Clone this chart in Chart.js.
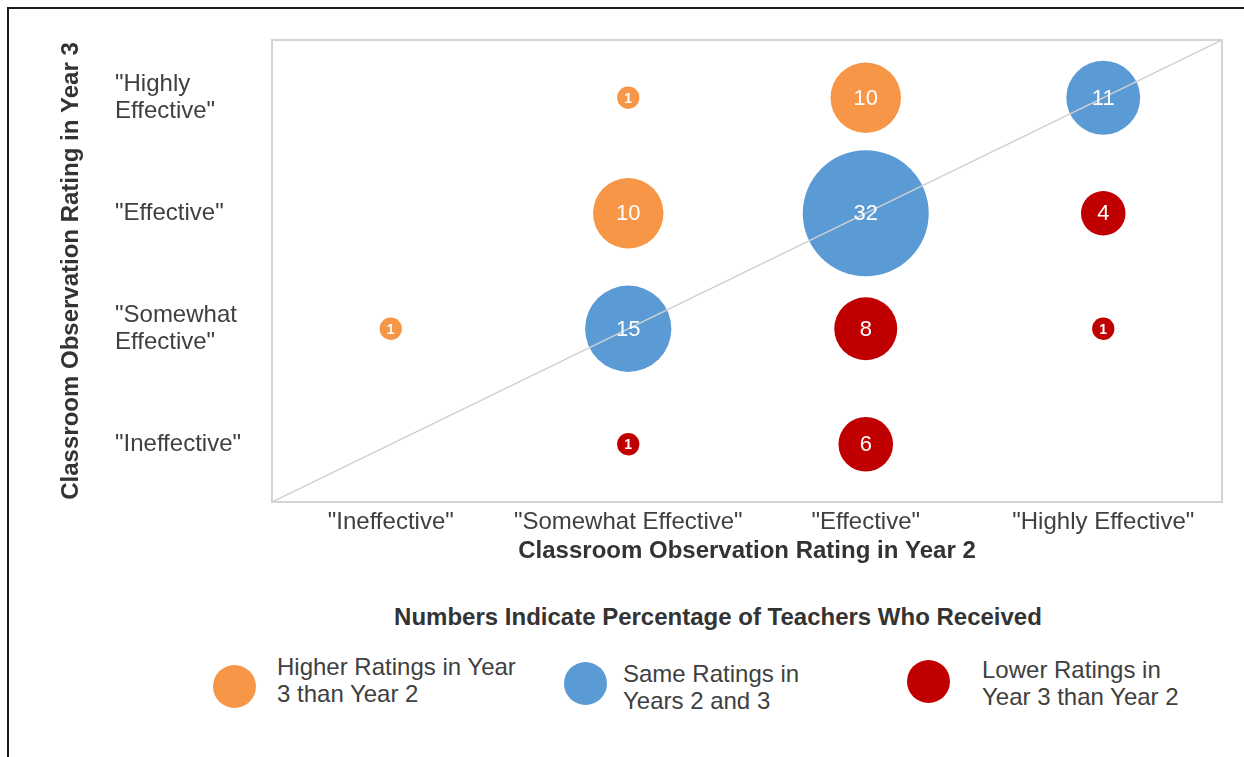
<!DOCTYPE html>
<html>
<head>
<meta charset="utf-8">
<script src="https://cdn.jsdelivr.net/npm/chart.js@4/dist/chart.umd.min.js"></script>
<style>
  body { margin: 0; width: 1244px; height: 757px; position: relative; overflow: hidden; background: #fff;
         font-family: "Liberation Sans", Arial, sans-serif; color: #404040; }
  #frame { position: absolute; left: 7px; top: 7px; right: -4px; bottom: -4px;
           border-top: 2px solid #1b1b1b; border-left: 2px solid #1b1b1b; }
  #wrap { position: absolute; left: 0; top: 0; width: 1244px; height: 580px; }
  .legend-title { position: absolute; left: 318px; width: 800px; top: 603px; text-align: center;
                  font-weight: bold; font-size: 24px; color: #333; }
  .dot { position: absolute; width: 43px; height: 43px; border-radius: 50%; }
  .txt { position: absolute; font-size: 24px; line-height: 27px; white-space: nowrap; }
</style>
</head>
<body>
<div id="frame"></div>
<div id="wrap"><canvas id="bubbleChart"></canvas></div>
<div id="legend"></div>

<script>
'use strict';

// axis categories
const xCategories = ['"Ineffective"', '"Somewhat Effective"', '"Effective"', '"Highly Effective"'];
const yCategories = [['"Ineffective"'], ['"Somewhat', 'Effective"'], ['"Effective"'], ['"Highly', 'Effective"']];

// series (x / y are category positions 1..4, values are % of teachers)
const seriesNames = [
  ['Higher Ratings in Year', '3 than Year 2'],
  ['Same Ratings in', 'Years 2 and 3'],
  ['Lower Ratings in', 'Year 3 than Year 2']
];
const higherX = [2, 3, 2, 1];
const higherY = [4, 4, 3, 2];
const higherValues = [1, 10, 10, 1];

const sameX = [4, 3, 2];
const sameY = [4, 3, 2];
const sameValues = [11, 32, 15];

const lowerX = [4, 3, 4, 2, 3];
const lowerY = [3, 2, 2, 1, 1];
const lowerValues = [4, 8, 1, 1, 6];

const colors = ['#F79646', '#5B9BD5', '#C00000'];

// bubble area proportional to value, 32% -> radius 63px
const radiusFor = function (v) {
  return 63 * Math.sqrt(v / 32);
}

const buildPoints = function (xs, ys, vals) {
  return vals.map((v, i) => ({ x: xs[i], y: ys[i], r: radiusFor(v), v: v }));
}

const FONT = '"Liberation Sans", Arial, sans-serif';

/**
 * Plot border + value labels inside bubbles
 */
const plotFrame = {
  id: 'plotFrame',
  beforeDatasetsDraw(chart) {
    const { ctx, chartArea: a } = chart;
    ctx.save();
    ctx.strokeStyle = '#d4d4d4';
    ctx.lineWidth = 2;
    ctx.strokeRect(a.left, a.top, a.right - a.left, a.bottom - a.top);
    ctx.restore();
  }
};

const bubbleLabels = {
  id: 'bubbleLabels',
  afterDatasetsDraw(chart) {
    const ctx = chart.ctx;
    ctx.save();
    ctx.fillStyle = '#ffffff';
    ctx.textAlign = 'center';
    ctx.textBaseline = 'middle';
    chart.data.datasets.forEach((ds, di) => {
      if (ds.type !== 'bubble') return;
      chart.getDatasetMeta(di).data.forEach((el, i) => {
        const v = ds.data[i].v;
        if (v < 2) {
          ctx.font = 'bold 14px ' + FONT;
        } else {
          ctx.font = '22px ' + FONT;
        }
        ctx.fillText(String(v), el.x, el.y + 1);
      });
    });
    ctx.restore();
  }
};

const bubbleDataset = function (name, xs, ys, vals, color) {
  return {
    type: 'bubble',
    label: name.join(' '),
    data: buildPoints(xs, ys, vals),
    backgroundColor: color,
    borderWidth: 0,
    hoverBorderWidth: 0,
    order: 1
  };
}

const ctx = document.getElementById('bubbleChart').getContext('2d');

const bubbleChart = new Chart(ctx, {
  data: {
    datasets: [
      bubbleDataset(seriesNames[0], higherX, higherY, higherValues, colors[0]),
      bubbleDataset(seriesNames[1], sameX, sameY, sameValues, colors[1]),
      bubbleDataset(seriesNames[2], lowerX, lowerY, lowerValues, colors[2]),
      {
        // diagonal "no change" reference line across the plot
        type: 'line',
        label: 'diagonal',
        data: [{ x: 0.5, y: 0.5 }, { x: 4.5, y: 4.5 }],
        borderColor: '#d0d0d0',
        borderWidth: 1.5,
        pointRadius: 0,
        order: 0
      }
    ]
  },
  options: {
    responsive: true,
    maintainAspectRatio: false,
    animation: false,
    layout: { autoPadding: false, padding: { top: 40, right: 22, left: 0, bottom: 0 } },
    plugins: { legend: { display: false }, tooltip: { enabled: false } },
    scales: {
      x: {
        type: 'linear',
        min: 0.5,
        max: 4.5,
        grid: { display: false, drawTicks: false },
        border: { display: false },
        afterBuildTicks: (s) => { s.ticks = xCategories.map((c, i) => ({ value: i + 1 })); },
        afterFit: (s) => { s.height = 78; },
        ticks: {
          padding: 6,
          color: '#404040',
          font: { family: FONT, size: 24 },
          callback: (v) => xCategories[v - 1]
        },
        title: {
          display: true,
          text: 'Classroom Observation Rating in Year 2',
          color: '#333',
          font: { family: FONT, size: 24, weight: 'bold' },
          padding: { top: 0, bottom: 14 }
        }
      },
      y: {
        type: 'linear',
        position: 'left',
        min: 0.5,
        max: 4.5,
        weight: 0,
        grid: { display: false, drawTicks: false },
        border: { display: false },
        afterBuildTicks: (s) => { s.ticks = yCategories.map((c, i) => ({ value: i + 1 })); },
        afterFit: (s) => { s.width = 157; },
        ticks: {
          crossAlign: 'far',
          color: '#404040',
          font: { family: FONT, size: 24, lineHeight: 1.13 },
          callback: (v) => yCategories[v - 1]
        }
      },
      yTitle: {
        type: 'linear',
        position: 'left',
        min: 0.5,
        max: 4.5,
        weight: 1,
        grid: { display: false, drawTicks: false },
        border: { display: false },
        ticks: { display: false },
        afterFit: (s) => { s.width = 115; },
        title: {
          display: true,
          text: 'Classroom Observation Rating in Year 3',
          color: '#333',
          font: { family: FONT, size: 24, weight: 'bold' },
          padding: { top: 57, bottom: 0 }
        }
      }
    }
  },
  plugins: [plotFrame, bubbleLabels]
});

/**
 * HTML legend below the chart
 */
const legendEl = document.getElementById('legend');
const legendTitle = 'Numbers Indicate Percentage of Teachers Who Received';
const legendSpots = [
  { dot: [213, 665], text: [277, 653] },
  { dot: [564, 662], text: [623, 660] },
  { dot: [907, 660], text: [982, 656] }
];

let html = '<div class="legend-title">' + legendTitle + '</div>';
seriesNames.forEach((name, i) => {
  const p = legendSpots[i];
  html += '<div class="dot" style="left:' + p.dot[0] + 'px;top:' + p.dot[1] + 'px;background:' + colors[i] + '"></div>';
  html += '<div class="txt" style="left:' + p.text[0] + 'px;top:' + p.text[1] + 'px">' + name.join('<br>') + '</div>';
});
legendEl.innerHTML = html;
</script>
</body>
</html>
